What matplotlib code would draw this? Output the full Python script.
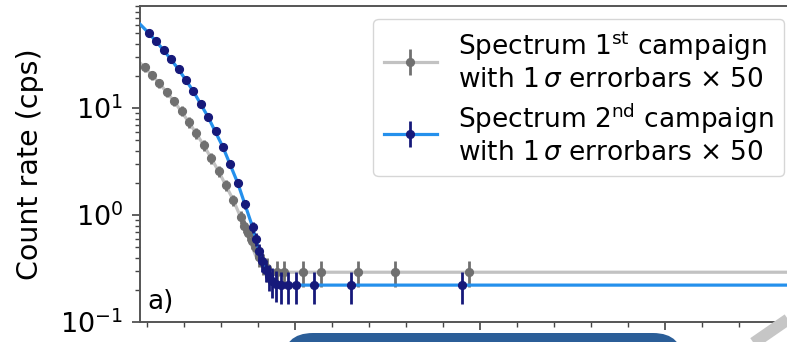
import matplotlib
matplotlib.use('Agg')
import matplotlib.pyplot as plt
from matplotlib.patches import FancyBboxPatch
from matplotlib.lines import Line2D

# spectrum of the 1st campaign (grey)
x1 = [0.93, 1.13, 1.33, 1.53, 1.73, 1.93, 2.13, 2.33, 2.53, 2.73, 2.93, 3.13, 3.33, 3.53,
      3.63, 3.73, 3.83, 3.93, 4.03, 4.13, 4.25, 4.5, 4.7, 5.2, 5.7, 6.7, 7.7, 9.7]
y1 = [24.2, 20.3, 17.1, 14.1, 11.6, 9.38, 7.4, 5.84, 4.51, 3.41, 2.58, 1.91, 1.38, 0.958,
      0.789, 0.679, 0.571, 0.492, 0.405, 0.356, 0.319, 0.293, 0.293, 0.293, 0.293, 0.293, 0.293, 0.293]
e1 = [2.4, 2.0, 1.7, 1.4, 1.2, 1.0, 0.8, 0.65, 0.5, 0.4, 0.3, 0.23, 0.17, 0.13,
      0.11, 0.1, 0.09, 0.085, 0.08, 0.08, 0.08, 0.08, 0.08, 0.08, 0.08, 0.08, 0.08, 0.08]

# spectrum of the 2nd campaign (blue)
x2 = [1.05, 1.25, 1.45, 1.65, 1.85, 2.05, 2.25, 2.45, 2.65, 2.85, 3.05, 3.25, 3.45, 3.65,
      3.85, 3.95, 4.03, 4.11, 4.22, 4.30, 4.38, 4.49, 4.62, 4.81, 5.03, 5.51, 6.51, 9.51]
y2 = [50.2, 42.3, 34.8, 28.7, 23.1, 18.3, 14.4, 10.9, 8.24, 6.10, 4.32, 3.0, 1.99, 1.27,
      0.773, 0.597, 0.46, 0.372, 0.31, 0.27, 0.245, 0.228, 0.222, 0.222, 0.222, 0.222, 0.222, 0.222]
e2 = [1.5, 1.3, 1.1, 0.9, 0.8, 0.6, 0.5, 0.45, 0.35, 0.3, 0.25, 0.2, 0.15, 0.12,
      0.09, 0.08, 0.08, 0.075, 0.075, 0.075, 0.075, 0.075, 0.075, 0.075, 0.075, 0.075, 0.075, 0.075]

# fitted curves
fit1_x = [0.81, 0.93, 1.33, 1.73, 2.13, 2.53, 2.93, 3.33, 3.63, 3.93, 4.13, 4.3, 4.45, 19.4]
fit1_y = [26.5, 24.2, 17.1, 11.6, 7.4, 4.51, 2.58, 1.38, 0.789, 0.42, 0.335, 0.298, 0.293, 0.293]
fit2_x = [0.81, 1.05, 1.45, 1.85, 2.25, 2.65, 3.05, 3.45, 3.85, 4.03, 4.22, 4.38, 4.5, 4.6, 19.4]
fit2_y = [61.0, 50.2, 34.8, 23.1, 14.4, 8.24, 4.32, 1.99, 0.773, 0.46, 0.31, 0.245, 0.224, 0.222, 0.222]

labels = ['Spectrum 1$^{\\mathrm{st}}$ campaign\nwith 1$\\,\\sigma$ errorbars × 50',
          'Spectrum 2$^{\\mathrm{nd}}$ campaign\nwith 1$\\,\\sigma$ errorbars × 50']

fig = plt.figure(figsize=(7.87, 3.42), dpi=100)
# the axes run past the right edge (cropped screenshot)
ax = fig.add_axes([0.178, 0.058, 0.872, 0.924])

l1, = ax.plot(fit1_x, fit1_y, color='#c2c2c2', lw=2.3, zorder=1)
l2, = ax.plot(fit2_x, fit2_y, color='#2490ec', lw=2.3, zorder=3)
eb1 = ax.errorbar(x1, y1, yerr=e1, fmt='o', color='#707070', ms=5.6, elinewidth=2,
                  capsize=0, zorder=2)
eb2 = ax.errorbar(x2, y2, yerr=e2, fmt='o', color='#16197a', ms=5.6, elinewidth=2,
                  capsize=0, zorder=4)

ax.set_yscale('log')
ax.set_ylim(0.1, 90)
ax.set_xlim(0.81, 19.35)
ax.set_xticks([5, 10, 15])
ax.set_xticks(range(1, 20), minor=True)
ax.tick_params(axis='x', which='both', labelbottom=False)
ax.tick_params(which='major', length=6, width=1.2, labelsize=19.5, pad=6, color='#444444')
ax.tick_params(which='minor', length=3.5, width=1, color='#444444')
for s in ax.spines.values():
    s.set_color('#555555')
    s.set_linewidth(1.4)
ax.set_ylabel('Count rate (cps)', fontsize=20.5, labelpad=12)

fig.legend([(l1, eb1), (l2, eb2)], labels, loc='upper right', fontsize=19,
           labelspacing=0.3, bbox_to_anchor=(784 / 787, 1 - 19 / 342),
           bbox_transform=fig.transFigure, borderaxespad=0)

fig.text(147 / 787, 1 - 309 / 342, 'a)', fontsize=19)

# overlay shapes from the screenshot
fig.add_artist(FancyBboxPatch((2.83, -1.0), 4.0, 1.09, boxstyle='round,pad=0,rounding_size=0.3',
                              transform=fig.dpi_scale_trans, facecolor='#2b5e98',
                              edgecolor='none', clip_on=False))
fig.add_artist(Line2D([7.5, 8.0], [-0.035, 0.31], transform=fig.dpi_scale_trans,
                      color='#c6c6c6', lw=8.5, solid_capstyle='butt'))

plt.savefig('out.png', dpi=100)
